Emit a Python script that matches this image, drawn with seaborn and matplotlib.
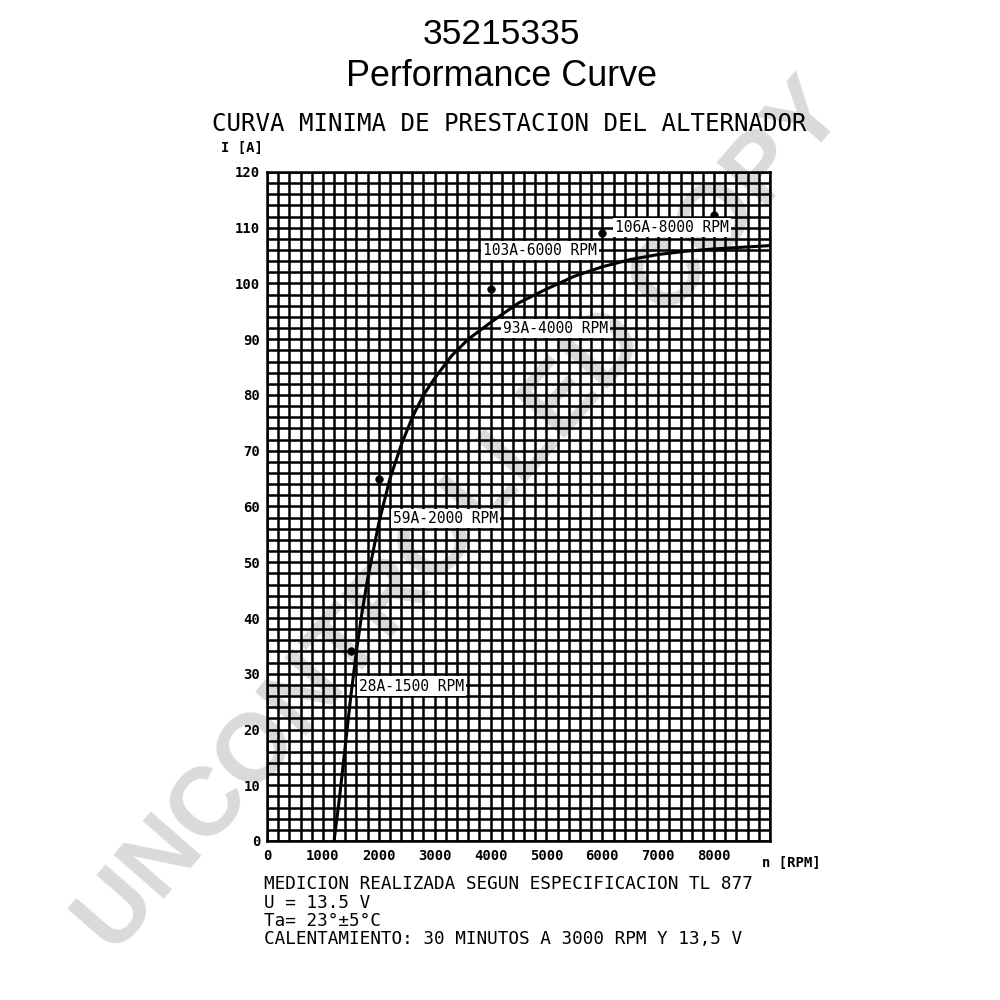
import matplotlib
matplotlib.use("Agg")
import matplotlib.pyplot as plt
from matplotlib.ticker import MultipleLocator
import seaborn as sns
import pandas as pd

# ---- data ----
curve_rpm = [1200, 1300, 1400, 1500, 1600, 1700, 1800, 2000, 2200, 2400, 2600, 2800,
             3000, 3300, 3600, 4000, 4500, 5000, 5500, 6000, 6500, 7000, 7500, 8000, 8500, 9000]
curve_amp = [0, 8, 17, 26, 34, 41, 47, 57, 65, 71, 76, 80,
             83, 87, 90, 93, 96.5, 99, 101.3, 103, 104.3, 105.2, 105.8, 106.2, 106.5, 106.8]
meas_rpm = [1500, 2000, 4000, 6000, 8000]
meas_amp = [34, 65, 99, 109, 112.3]
label_text = ["28A-1500 RPM", "59A-2000 RPM", "93A-4000 RPM", "103A-6000 RPM", "106A-8000 RPM"]
label_x = [1640, 2260, 4230, 3860, 6230]
label_y = [27.8, 57.8, 92.0, 106.0, 110.0]
x_ticks = [0, 1000, 2000, 3000, 4000, 5000, 6000, 7000, 8000]
y_ticks = [0, 10, 20, 30, 40, 50, 60, 70, 80, 90, 100, 110, 120]
notes = ["MEDICION REALIZADA SEGUN ESPECIFICACION TL 877",
         "U = 13.5 V",
         "Ta= 23°±5°C",
         "CALENTAMIENTO: 30 MINUTOS A 3000 RPM Y 13,5 V"]

sns.set_style("white")
plt.rcParams["font.family"] = ["DejaVu Sans Mono", "DejaVu Sans"]
plt.rcParams["text.color"] = "black"
plt.rcParams["xtick.color"] = "black"
plt.rcParams["ytick.color"] = "black"

fig = plt.figure(figsize=(10, 10), dpi=100)
fig.patch.set_facecolor("white")

# watermark (behind the chart)
wm = fig.text(0.462, 0.482, "UNCONTROLLED COPY", rotation=49, ha="center", va="center",
              fontsize=70, fontweight="bold", color="#dadada", family="Liberation Sans")
wm.set_zorder(0)

ax = fig.add_axes([0.267, 0.159, 0.503, 0.669])
ax.set_zorder(1)
ax.patch.set_alpha(0)

curve_df = pd.DataFrame({"rpm": curve_rpm, "amp": curve_amp})
meas_df = pd.DataFrame({"rpm": meas_rpm, "amp": meas_amp})
sns.lineplot(data=curve_df, x="rpm", y="amp", ax=ax, color="black", lw=2.2, sort=False, zorder=4)
sns.scatterplot(data=meas_df, x="rpm", y="amp", ax=ax, color="black", s=30, zorder=5, edgecolor="black")

ax.set_xlim(0, 9000)
ax.set_ylim(0, 120)
ax.xaxis.set_major_locator(MultipleLocator(1000))
ax.xaxis.set_minor_locator(MultipleLocator(200))
ax.yaxis.set_major_locator(MultipleLocator(10))
ax.yaxis.set_minor_locator(MultipleLocator(2))
ax.grid(True, which="both", color="black", lw=1.8, zorder=2)
ax.set_axisbelow(True)
for s in ax.spines.values():
    s.set_color("black")
    s.set_linewidth(1.8)
ax.tick_params(which="both", length=0)
ax.set_xticks(x_ticks)
ax.set_xticklabels([str(v) for v in x_ticks], fontsize=10, fontweight="bold")
ax.set_yticks(y_ticks)
ax.set_yticklabels([str(v) for v in y_ticks], fontsize=10, fontweight="bold")
ax.tick_params(axis="x", pad=6)
ax.tick_params(axis="y", pad=5)
ax.set_xlabel("")
ax.set_ylabel("")

ax.text(9000 - 150, -2.7, "n [RPM]", ha="left", va="top", fontsize=10, fontweight="bold")
ax.text(-80, 124.3, "I [A]", ha="right", va="center", fontsize=10, fontweight="bold")

for t, x, y in zip(label_text, label_x, label_y):
    ax.text(x, y, t, ha="left", va="center", fontsize=10.5, zorder=6,
            bbox=dict(facecolor="white", edgecolor="none", pad=1.5))

fig.text(0.501, 0.965, "35215335", ha="center", va="center", fontsize=25.5,
         family="Liberation Sans")
fig.text(0.502, 0.923, "Performance Curve", ha="center", va="center", fontsize=25.8,
         family="Liberation Sans")
fig.text(0.509, 0.876, "CURVA MINIMA DE PRESTACION DEL ALTERNADOR", ha="center", va="center",
         fontsize=17.4)

for i, line in enumerate(notes):
    fig.text(0.264, 0.116 - i * 0.0185, line, ha="left", va="center", fontsize=12.7)

fig.savefig("out.png", dpi=100, facecolor="white")
